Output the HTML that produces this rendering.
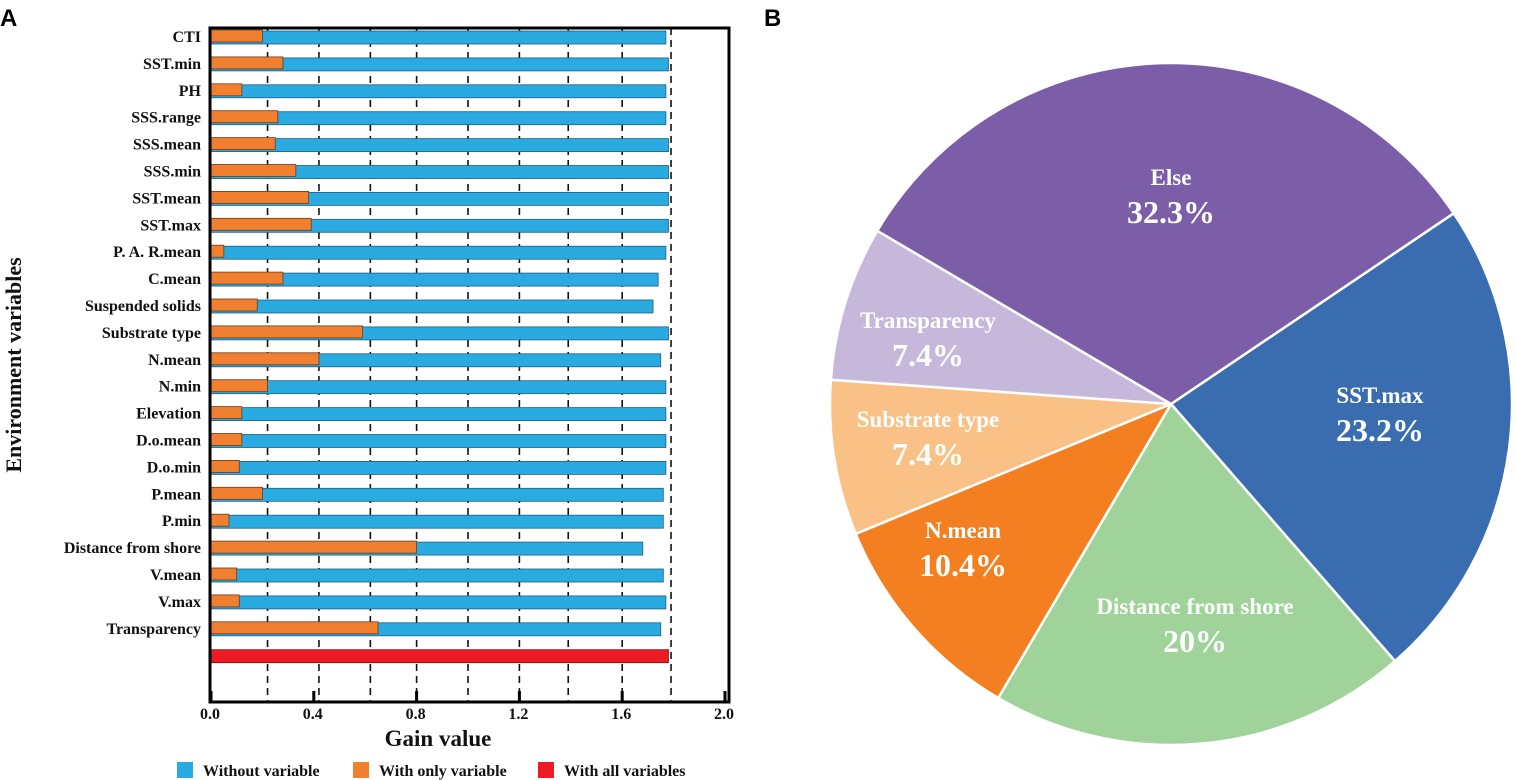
<!DOCTYPE html>
<html><head><meta charset="utf-8"><style>
html,body{margin:0;padding:0;background:#fff;}
svg{display:block;}
text{font-family:"Liberation Serif",serif;font-weight:bold;}
</style></head><body>
<svg id="svg" width="1516" height="780" xmlns="http://www.w3.org/2000/svg">
<text x="0" y="26" style="font-family:'Liberation Sans',sans-serif;font-size:24px">A</text>
<text x="764" y="26" style="font-family:'Liberation Sans',sans-serif;font-size:24px">B</text>
<g id="bar"></g>
<g id="pie"></g>
</svg>
<script>
const categories=["CTI","SST.min","PH","SSS.range","SSS.mean","SSS.min","SST.mean","SST.max","P. A. R.mean","C.mean","Suspended solids","Substrate type","N.mean","N.min","Elevation","D.o.mean","D.o.min","P.mean","P.min","Distance from shore","V.mean","V.max","Transparency"];
const withoutVar=[1.77,1.78,1.77,1.77,1.78,1.78,1.78,1.78,1.77,1.74,1.72,1.78,1.75,1.77,1.77,1.77,1.77,1.76,1.76,1.68,1.76,1.77,1.75];
const onlyVar=[0.20,0.28,0.12,0.26,0.25,0.33,0.38,0.39,0.05,0.28,0.18,0.59,0.42,0.22,0.12,0.12,0.11,0.20,0.07,0.80,0.10,0.11,0.65];
const allVars=1.78;
const xTicks=[0.0,0.4,0.8,1.2,1.6,2.0];
const gridLines=[0.22,0.42,0.62,0.8,1.0,1.2,1.39,1.6,1.79];
const pieLabels=["SST.max","Distance from shore","N.mean","Substrate type","Transparency","Else"];
const pieValues=[23.2,20,10.4,7.4,7.4,32.3];
const pieText=["23.2%","20%","10.4%","7.4%","7.4%","32.3%"];

const NS="http://www.w3.org/2000/svg";
function mk(tag,attrs,parent){const e=document.createElementNS(NS,tag);for(const k in attrs)e.setAttribute(k,attrs[k]);parent.appendChild(e);return e;}
const bar=document.getElementById('bar');
const X0=211,PX=257,top0=28,bot=702;
const x=v=>X0+v*PX;
const rowY=i=>37+i*26.9;
gridLines.forEach(g=>{const l=mk('line',{x1:x(g),x2:x(g),y1:top0,y2:bot,stroke:'#111','stroke-width':1.6,'stroke-dasharray':'7,5'},bar);
});
categories.forEach((c,i)=>{const cy=rowY(i);
 const b=mk('rect',{x:x(0),y:cy-6,width:x(withoutVar[i])-x(0),height:13,fill:'#29ABE2',stroke:'#1d5f80','stroke-width':0.8},bar);
 
 const o=mk('rect',{x:x(0),y:cy-7,width:x(onlyVar[i])-x(0),height:12,fill:'#F08030',stroke:'#6b3b1a','stroke-width':0.8},bar);
 
 const t=mk('text',{x:201,y:cy+5,'text-anchor':'end','font-size':16,fill:'#111'},bar);t.textContent=c;
 
});
const ry=rowY(categories.length);
const r=mk('rect',{x:x(0),y:ry-6,width:x(allVars)-x(0),height:13,fill:'#ED1C24',stroke:'#7a1010','stroke-width':0.8},bar);

const fr=mk('rect',{x:210,y:top0,width:519,height:bot-top0,fill:'none',stroke:'#000','stroke-width':3},bar);

xTicks.forEach(v=>{const tk=mk('line',{x1:x(v),x2:x(v),y1:bot-11,y2:bot,stroke:'#000','stroke-width':3},bar);
 
 const t=mk('text',{x:x(v)-1,y:bot+17,'text-anchor':'middle','font-size':16,fill:'#111'},bar);t.textContent=v.toFixed(1);
 });
let t=mk('text',{x:438,y:746,'text-anchor':'middle','font-size':23,fill:'#111'},bar);t.textContent='Gain value';

t=mk('text',{x:0,y:0,transform:'translate(21,365) rotate(-90)','text-anchor':'middle','font-size':22,fill:'#111'},bar);t.textContent='Environment variables';

const leg=[["Without variable","#29ABE2",177],["With only variable","#F08030",353],["With all variables","#ED1C24",538]];
leg.forEach(([n,c,lx])=>{const s=mk('rect',{x:lx,y:762,width:16,height:16,fill:c},bar);
 
 const tt=mk('text',{x:lx+26,y:776,'font-size':16,fill:'#111'},bar);tt.textContent=n;
 });

const pie=document.getElementById('pie');
const cx=1171,cy=404,R=341;
const colors=["#3A6DB0","#A0D39A","#F47F20","#F9C185","#C5B8DA","#7B5EA7"];
const labelPos=[[1380,403],[1195,614],[963,538],[928,427],[928,328],[1171,185]];
const total=pieValues.reduce((a,b)=>a+b,0);
let ang=56*Math.PI/180;
const pt=a=>[cx+R*Math.sin(a),cy-R*Math.cos(a)];
pieValues.forEach((v,i)=>{const a2=ang+v/total*2*Math.PI;const [x1,y1]=pt(ang),[x2,y2]=pt(a2);
 const large=(a2-ang)>Math.PI?1:0;
 const p=mk('path',{d:`M${cx},${cy} L${x1},${y1} A${R},${R} 0 ${large} 1 ${x2},${y2} Z`,fill:colors[i],stroke:'#fff','stroke-width':2.5},pie);
 
 ang=a2;});
pieLabels.forEach((n,i)=>{const [lx,ly]=labelPos[i];
 const a=mk('text',{x:lx,y:ly,'text-anchor':'middle','font-size':23,fill:'#fff'},pie);a.textContent=n;
 
 const b=mk('text',{x:lx,y:ly+38,'text-anchor':'middle','font-size':32,fill:'#fff'},pie);b.textContent=pieText[i];
 });
</script>
</body></html>
